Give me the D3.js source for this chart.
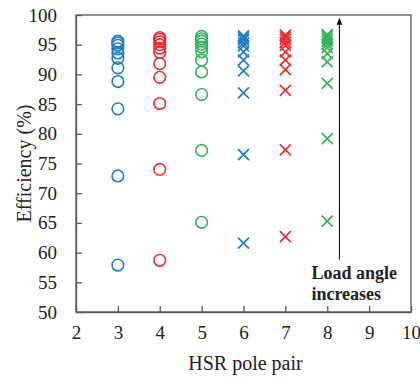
<!DOCTYPE html>
<html>
<head>
<meta charset="utf-8">
<script src="https://cdn.jsdelivr.net/npm/d3@7"></script>
<style>
  body { margin: 0; background: #fff; }
  svg { display: block; }
  text { font-family: "Liberation Serif", "Times New Roman", serif; fill: #222; }
</style>
</head>
<body>
<svg id="chart" width="420" height="377"></svg>
<script>
// pole pairs and efficiency values per series
var xTicks = [2, 3, 4, 5, 6, 7, 8, 9, 10];
var yTicks = [50, 55, 60, 65, 70, 75, 80, 85, 90, 95, 100];

var blueCircleX = 3;
var blueCircleVals = [95.6, 95.3, 94.9, 94.3, 93.6, 92.7, 91.1, 88.8, 84.2, 72.9, 57.9];
var redCircleX = 4;
var redCircleVals = [96.2, 95.9, 95.5, 95.0, 94.4, 93.7, 91.8, 89.5, 85.1, 74.0, 58.7];
var greenCircleX = 5;
var greenCircleVals = [96.4, 96.0, 95.6, 95.1, 94.6, 93.8, 92.4, 90.4, 86.6, 77.2, 65.1];
var blueCrossX = 6;
var blueCrossVals = [96.5, 96.2, 95.8, 95.3, 94.8, 93.8, 92.4, 90.6, 86.9, 76.5, 61.6];
var redCrossX = 7;
var redCrossVals = [96.6, 96.3, 95.9, 95.4, 94.9, 93.8, 92.4, 90.8, 87.3, 77.3, 62.7];
var greenCrossX = 8;
var greenCrossVals = [96.7, 96.4, 96.0, 95.6, 95.1, 94.5, 93.5, 92.1, 88.5, 79.2, 65.3];

// arrow "load angle increases"
var arrowX = 8.29;
var arrowFrom = 58.8;
var arrowTo = 99.4;

var BLUE = "#1f7dc9", RED = "#ec2e31", GREEN = "#35b25a";

var series = [
  {x: blueCircleX, vals: blueCircleVals, color: BLUE, shape: "circle"},
  {x: redCircleX, vals: redCircleVals, color: RED, shape: "circle"},
  {x: greenCircleX, vals: greenCircleVals, color: GREEN, shape: "circle"},
  {x: blueCrossX, vals: blueCrossVals, color: BLUE, shape: "cross"},
  {x: redCrossX, vals: redCrossVals, color: RED, shape: "cross"},
  {x: greenCrossX, vals: greenCrossVals, color: GREEN, shape: "cross"}
];

var svg = d3.select("#chart");
var margin = {left: 76, top: 15, right: 9, bottom: 65};
var W = 420 - margin.left - margin.right;
var H = 377 - margin.top - margin.bottom;

var g = svg.append("g").attr("transform", "translate(" + margin.left + "," + margin.top + ")");

var x = d3.scaleLinear().domain([2, 10]).range([0, W]);
var y = d3.scaleLinear().domain([50, 100]).range([H, 0]);

// frame
g.append("rect")
  .attr("x", 0).attr("y", 0).attr("width", W).attr("height", H)
  .attr("fill", "none").attr("stroke", "#595959").attr("stroke-width", 1.3);

// axes with inward ticks
var xAxis = g.append("g").attr("transform", "translate(0," + H + ")")
  .call(d3.axisBottom(x).tickValues(xTicks).tickSizeInner(-6).tickSizeOuter(0).tickPadding(14));
var yAxis = g.append("g")
  .call(d3.axisLeft(y).tickValues(yTicks).tickSizeInner(-6).tickSizeOuter(0).tickPadding(19));

[xAxis, yAxis].forEach(function(a) {
  a.select(".domain").attr("stroke", "#595959").attr("stroke-width", 1.3);
  a.selectAll(".tick line").attr("stroke", "#595959").attr("stroke-width", 1.3);
  a.selectAll(".tick text")
    .style("font-family", "'Liberation Serif', 'Times New Roman', serif")
    .style("font-size", "19px").attr("fill", "#222");
});
xAxis.selectAll(".tick text").attr("dy", "0.71em");

// axis titles
svg.append("text")
  .attr("x", margin.left + W / 2 + 2).attr("y", 370)
  .attr("text-anchor", "middle").style("font-size", "20px")
  .text("HSR pole pair");
svg.append("text")
  .attr("transform", "translate(31," + (margin.top + H / 2) + ") rotate(-90)")
  .attr("text-anchor", "middle").style("font-size", "20px")
  .text("Efficiency (%)");

// markers
var r = 5.8;
series.forEach(function(s) {
  var pts = s.vals.map(function(v) { return {x: s.x, y: v}; });
  if (s.shape == "circle") {
    g.selectAll(null).data(pts).enter().append("circle")
      .attr("cx", function(d) { return x(d.x); })
      .attr("cy", function(d) { return y(d.y); })
      .attr("r", r)
      .attr("fill", "none").attr("stroke", s.color).attr("stroke-width", 1.6);
  } else {
    g.selectAll(null).data(pts).enter().append("path")
      .attr("transform", function(d) { return "translate(" + x(d.x) + "," + y(d.y) + ")"; })
      .attr("d", "M-5.5,-5.5L5.5,5.5M-5.5,5.5L5.5,-5.5")
      .attr("fill", "none").attr("stroke", s.color).attr("stroke-width", 1.7);
  }
});

// arrow
svg.append("defs").append("marker")
  .attr("id", "head").attr("viewBox", "0 0 10 10")
  .attr("refX", 9).attr("refY", 5)
  .attr("markerWidth", 7).attr("markerHeight", 7)
  .attr("orient", "auto")
  .append("path").attr("d", "M0,1L10,5L0,9Z").attr("fill", "#000");

g.append("line")
  .attr("x1", x(arrowX)).attr("x2", x(arrowX))
  .attr("y1", y(arrowFrom)).attr("y2", y(arrowTo))
  .attr("stroke", "#000").attr("stroke-width", 1)
  .attr("marker-end", "url(#head)");

var note = g.append("text")
  .attr("x", x(arrowX) - 28).attr("y", y(arrowFrom) + 19)
  .style("font-size", "18px").style("font-weight", "bold");
note.append("tspan").text("Load angle");
note.append("tspan").attr("x", x(arrowX) - 28).attr("dy", 21).text("increases");
</script>
</body>
</html>
